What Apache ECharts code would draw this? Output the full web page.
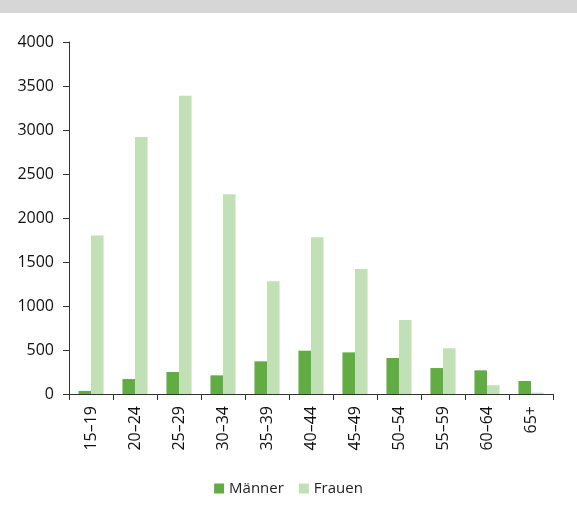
<!DOCTYPE html>
<html>
<head>
<meta charset="utf-8">
<script src="https://cdn.jsdelivr.net/npm/echarts@6/dist/echarts.min.js"></script>
<style>
html,body{margin:0;padding:0;background:#fff;}
#chart{width:577px;height:518px;}
</style>
</head>
<body>
<div id="chart"></div>
<script>
var categories = ['15–19','20–24','25–29','30–34','35–39','40–44','45–49','50–54','55–59','60–64','65+'];
var maenner = [35, 170, 250, 212, 371, 492, 473, 409, 295, 269, 148];
var frauen = [1800, 2920, 3390, 2270, 1280, 1780, 1420, 840, 520, 100, 15];
var yTicks = [0, 500, 1000, 1500, 2000, 2500, 3000, 3500, 4000];

var FONT = 'Open Sans';
var chart = echarts.init(document.getElementById('chart'), null, {renderer: 'canvas'});
chart.setOption({
  animation: false,
  textStyle: {fontFamily: FONT},
  graphic: [{
    type: 'rect', left: 0, top: 0,
    shape: {width: 577, height: 13},
    style: {fill: '#d6d6d6'}
  }],
  grid: {left: 69, right: 24, top: 42, bottom: 124, containLabel: false},
  legend: {
    data: ['Männer', 'Frauen'],
    bottom: 17,
    left: 'center',
    itemWidth: 10,
    itemHeight: 10,
    itemGap: 15,
    icon: 'rect',
    textStyle: {fontFamily: FONT, fontSize: 15, color: '#222'}
  },
  xAxis: {
    type: 'category',
    data: categories,
    boundaryGap: true,
    axisLine: {lineStyle: {color: '#333', width: 1}},
    axisTick: {show: true, alignWithLabel: false, length: 6, lineStyle: {color: '#333'}},
    axisLabel: {rotate: 90, margin: 12, fontSize: 16, color: '#111', fontFamily: FONT, interval: 0}
  },
  yAxis: {
    type: 'value',
    min: yTicks[0],
    max: yTicks[yTicks.length - 1],
    interval: 500,
    splitLine: {show: false},
    axisLine: {show: true, lineStyle: {color: '#333', width: 1}},
    axisTick: {show: true, length: 6, lineStyle: {color: '#333'}},
    axisLabel: {margin: 15, fontSize: 16, color: '#111', fontFamily: FONT, formatter: function (v) { return String(v); }}
  },
  series: [
    {
      name: 'Männer', type: 'bar', data: maenner,
      barGap: '0%', barCategoryGap: '43%',
      itemStyle: {color: '#62ad43'}
    },
    {
      name: 'Frauen', type: 'bar', data: frauen,
      barGap: '0%', barCategoryGap: '43%',
      itemStyle: {color: '#c2e0b5'}
    }
  ]
});
</script>
</body>
</html>
